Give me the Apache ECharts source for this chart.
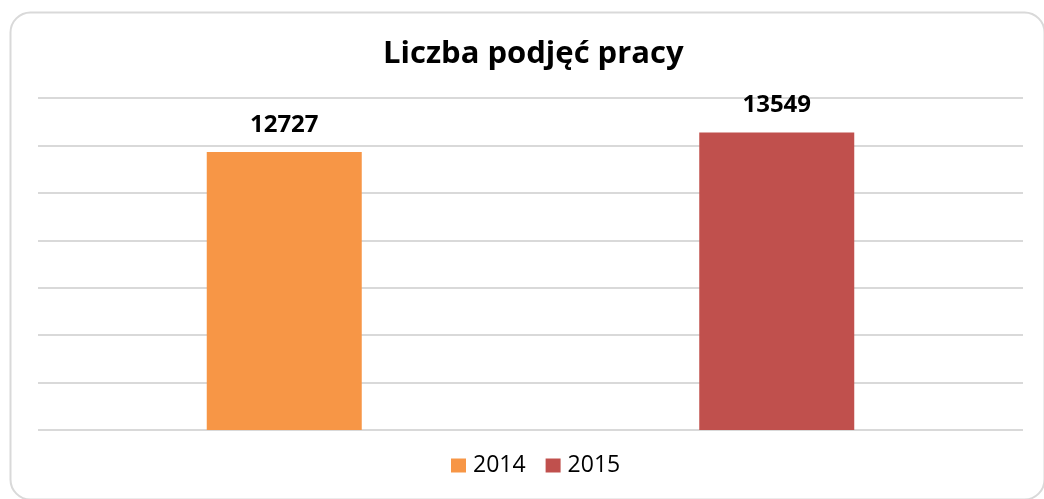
<!DOCTYPE html>
<html>
<head>
<meta charset="utf-8">
<title>Liczba podjęć pracy</title>
<script src="https://cdn.jsdelivr.net/npm/echarts@6/dist/echarts.min.js"></script>
<style>
  html, body { margin: 0; padding: 0; background: #fff; }
  #chart { width: 1044px; height: 499px; }
</style>
</head>
<body>
<div id="chart"></div>
<script>
// dane z wykresu
var categories = ['2014', '2015']
var seriesNames = ['2014', '2015']
var values = [12727, 13549]
var colors = ['#F79646', '#C0504D']

var chart = echarts.init(document.getElementById('chart'))

// każdy rok jako osobna seria, żeby legenda pokazywała oba lata
var series = seriesNames.map(function (name, i) {
  var data = categories.map(function (c, j) { return j === i ? values[i] : '-' })
  return {
    name: name,
    type: 'bar',
    stack: 'all',
    barWidth: 155,
    data: data,
    itemStyle: { color: colors[i] },
    label: {
      show: true,
      position: 'top',
      distance: 15,
      color: '#000',
      fontFamily: 'Open Sans',
      fontWeight: 'bold',
      fontSize: 24
    }
  }
})

var option = {
  backgroundColor: '#fff',
  animation: false,
  graphic: [{
    type: 'rect',
    left: 8,
    top: 10,
    shape: { width: 1034, height: 487, r: 20 },
    style: { fill: 'none', stroke: '#d9d9d9', lineWidth: 2 },
    silent: true
  }],
  title: {
    text: 'Liczba podjęć pracy',
    left: 378,
    top: 34,
    textStyle: {
      fontFamily: 'Open Sans',
      fontWeight: 'bold',
      fontSize: 31,
      color: '#000'
    }
  },
  legend: {
    bottom: 17,
    left: 446,
    icon: 'rect',
    itemWidth: 15,
    itemHeight: 14,
    itemGap: 20,
    textStyle: { fontFamily: 'Open Sans', fontSize: 23, color: '#000', padding: [0, 0, 0, 2] },
    data: seriesNames
  },
  grid: { left: 38, right: 21, top: 98, bottom: 69 },
  xAxis: {
    type: 'category',
    data: categories,
    axisLine: { show: false },
    axisTick: { show: false },
    axisLabel: { show: false }
  },
  yAxis: {
    type: 'value',
    min: 1000,
    max: 15000,
    interval: 2000,
    axisLabel: { show: false },
    axisLine: { show: false },
    axisTick: { show: false },
    splitLine: { lineStyle: { color: '#d9d9d9', width: 2 } }
  },
  series: series
}

chart.setOption(option)
</script>
</body>
</html>
